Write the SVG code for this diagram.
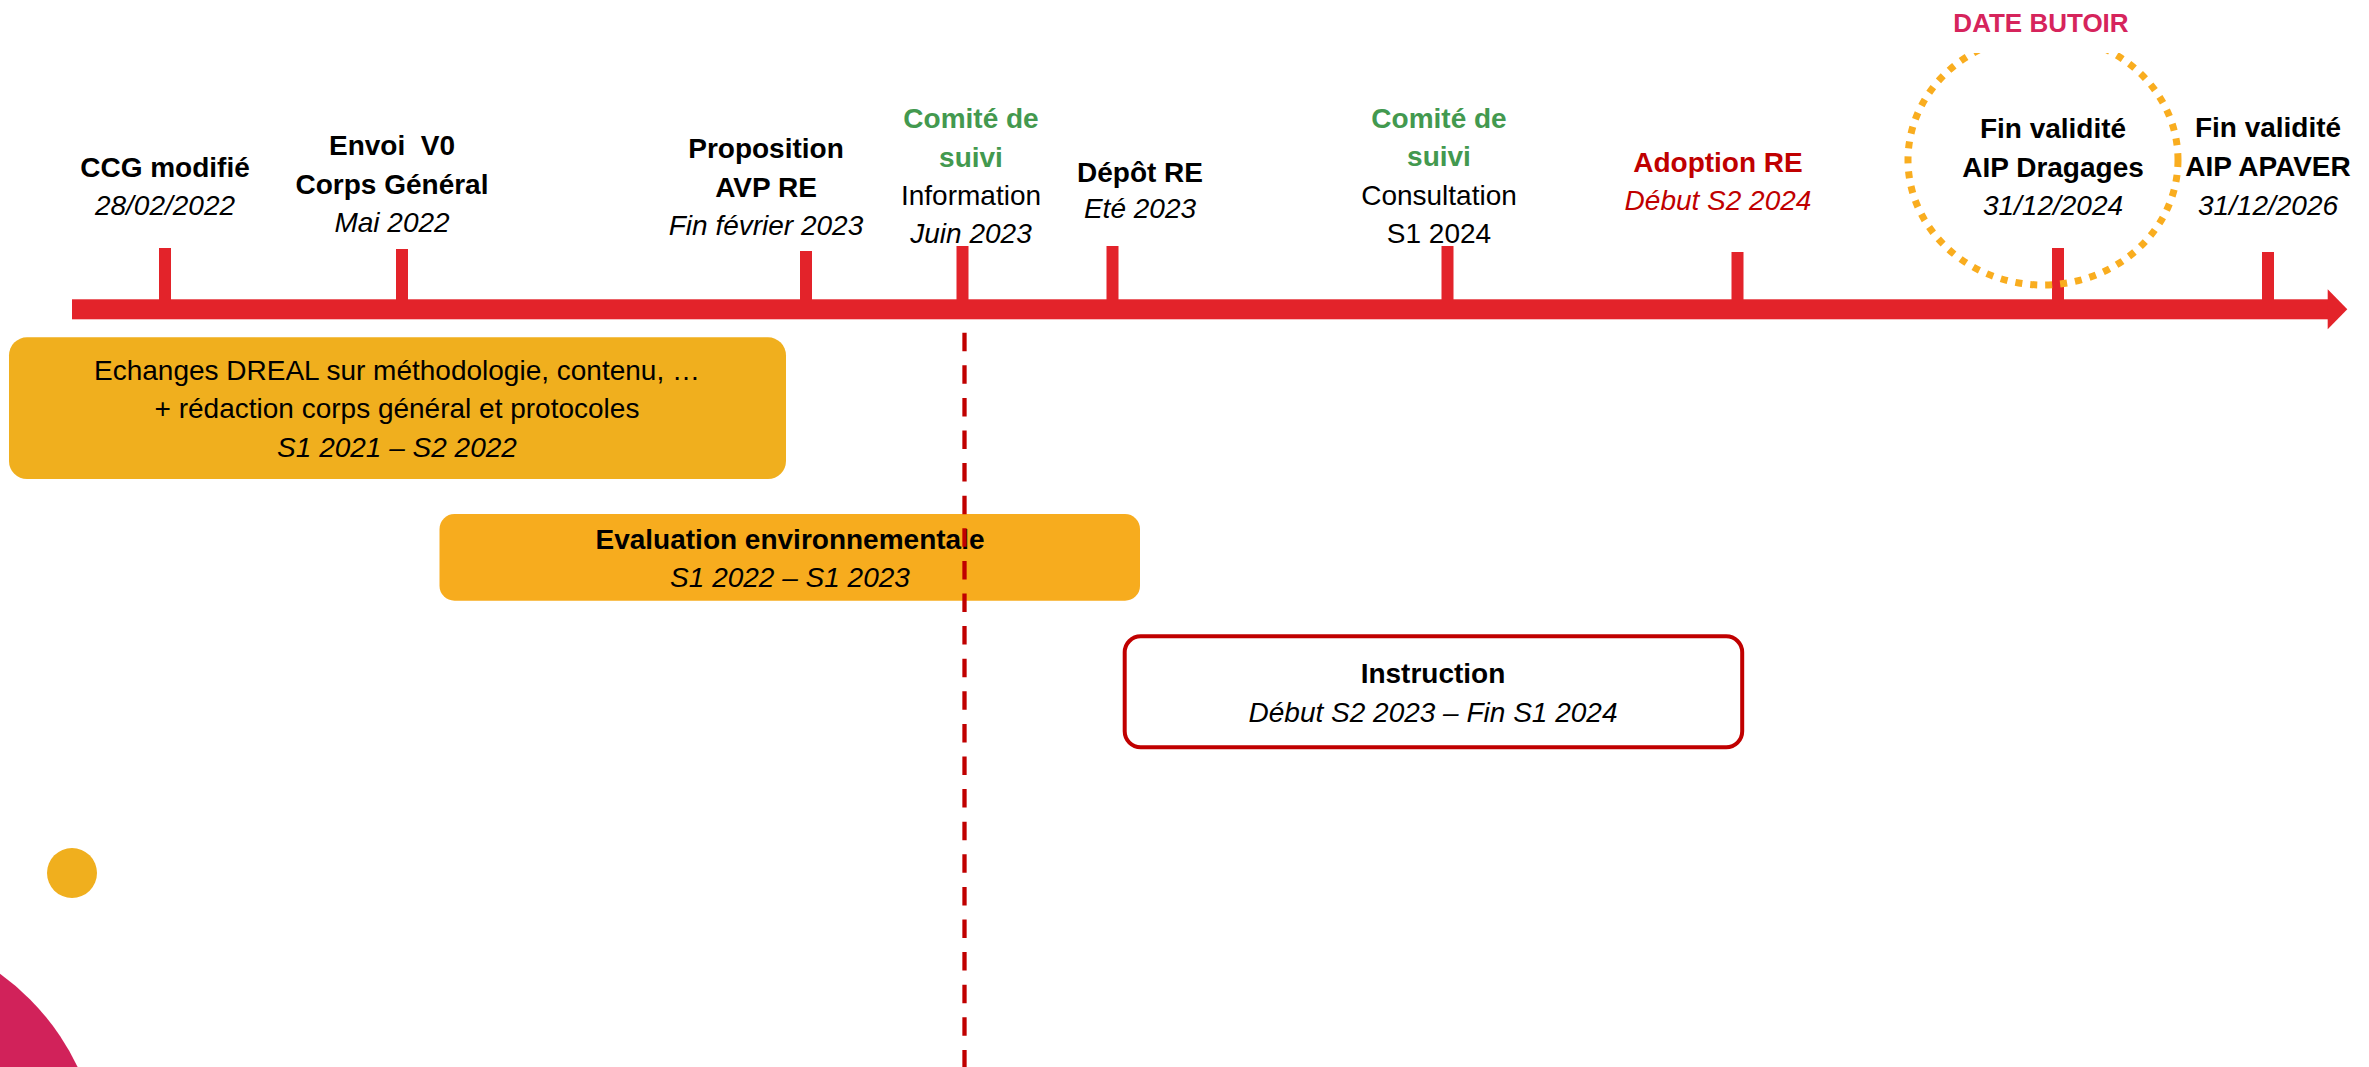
<svg xmlns="http://www.w3.org/2000/svg" width="2369" height="1067" viewBox="0 0 2369 1067">
  <style>
    text { font-family: "Liberation Sans", Arial, sans-serif; font-size: 28px; text-anchor: middle; fill: #000000; }
    .b { font-weight: bold; }
    .i { font-style: italic; }
    .g { fill: #43994F; font-weight: bold; }
    .dr { fill: #C00000; }
    .tick { fill: #E3232A; }
    .pre { white-space: pre; }
  </style>
  <defs>
    <clipPath id="belowLabel">
      <rect x="1880" y="53" width="320" height="260"/>
    </clipPath>
  </defs>
  <rect width="2369" height="1067" fill="#FFFFFF"/>

  <!-- decorations -->
  <g id="decor">
    <circle cx="72" cy="873" r="25" fill="#F0AF1E"/>
    <circle cx="-142" cy="1171" r="243" fill="#D1225A"/>
  </g>

  <!-- timeline and connectors -->
  <g id="connectors">
    <rect x="72" y="299.3" width="2256" height="20" fill="#E3232A"/>
    <polygon points="2327.7,289.3 2347.3,309.3 2327.7,329.3" fill="#E3232A"/>
    <rect class="tick" x="159" y="248" width="12" height="52"/>
    <rect class="tick" x="396" y="249" width="12" height="51"/>
    <rect class="tick" x="800" y="251" width="12" height="49"/>
    <rect class="tick" x="956.5" y="246" width="12" height="54"/>
    <rect class="tick" x="1106.5" y="246" width="12" height="54"/>
    <rect class="tick" x="1441.5" y="246" width="12" height="54"/>
    <rect class="tick" x="1731.5" y="252" width="12" height="48"/>
    <rect class="tick" x="2052" y="248" width="12" height="52"/>
    <rect class="tick" x="2262" y="252" width="12" height="48"/>
  </g>

  <!-- phase boxes -->
  <g id="box-echanges">
    <rect x="9" y="337.3" width="777" height="141.7" rx="18" fill="#F0AF1E"/>
    <text x="397" y="380">Echanges DREAL sur méthodologie, contenu, …</text>
    <text x="397" y="418">+ rédaction corps général et protocoles</text>
    <text class="i" x="397" y="457">S1 2021 – S2 2022</text>
  </g>
  <g id="box-evaluation">
    <rect x="439.5" y="514" width="700.5" height="86.7" rx="15" fill="#F7AC1E"/>
    <text class="b" x="790" y="549">Evaluation environnementale</text>
    <text class="i" x="790" y="587">S1 2022 – S1 2023</text>
  </g>
  <g id="box-instruction">
    <rect x="1124.7" y="636.3" width="617.5" height="111" rx="16" fill="#FFFFFF" stroke="#C00000" stroke-width="4"/>
    <text class="b" x="1433" y="683">Instruction</text>
    <text class="i" x="1433" y="722">Début S2 2023 – Fin S1 2024</text>
  </g>

  <!-- dashed "today" line -->
  <g id="dashed-marker">
    <line x1="964.5" y1="332.7" x2="964.5" y2="1067" stroke="#C00000" stroke-width="4.3" stroke-dasharray="18.5 14.1"/>
  </g>

  <!-- milestones -->
  <g id="m-ccg">
    <text class="b" x="165" y="177">CCG modifié</text>
    <text class="i" x="165" y="215">28/02/2022</text>
  </g>
  <g id="m-envoi">
    <text class="b pre" x="392" y="155">Envoi  V0</text>
    <text class="b" x="392" y="194">Corps Général</text>
    <text class="i" x="392" y="232">Mai 2022</text>
  </g>
  <g id="m-proposition">
    <text class="b" x="766" y="158">Proposition</text>
    <text class="b" x="766" y="197">AVP RE</text>
    <text class="i" x="766" y="235">Fin février 2023</text>
  </g>
  <g id="m-comite1">
    <text class="g" x="971" y="128">Comité de</text>
    <text class="g" x="971" y="167">suivi</text>
    <text x="971" y="205">Information</text>
    <text class="i" x="971" y="243">Juin 2023</text>
  </g>
  <g id="m-depot">
    <text class="b" x="1140" y="182">Dépôt RE</text>
    <text class="i" x="1140" y="218">Eté 2023</text>
  </g>
  <g id="m-comite2">
    <text class="g" x="1439" y="128">Comité de</text>
    <text class="g" x="1439" y="166">suivi</text>
    <text x="1439" y="205">Consultation</text>
    <text x="1439" y="243">S1 2024</text>
  </g>
  <g id="m-adoption">
    <text class="b dr" x="1718" y="172">Adoption RE</text>
    <text class="i dr" x="1718" y="210">Début S2 2024</text>
  </g>
  <g id="m-dragages">
    <ellipse cx="2043" cy="160" rx="135" ry="125" fill="none" stroke="#F9AD1F" stroke-width="7" stroke-dasharray="7 8" clip-path="url(#belowLabel)"/>
    <text class="b" x="2041" y="32" style="font-size:26px; fill:#D6245C">DATE BUTOIR</text>
    <text class="b" x="2053" y="138">Fin validité</text>
    <text class="b" x="2053" y="177">AIP Dragages</text>
    <text class="i" x="2053" y="215">31/12/2024</text>
  </g>
  <g id="m-apaver">
    <text class="b" x="2268" y="137">Fin validité</text>
    <text class="b" x="2268" y="176">AIP APAVER</text>
    <text class="i" x="2268" y="215">31/12/2026</text>
  </g>
</svg>
